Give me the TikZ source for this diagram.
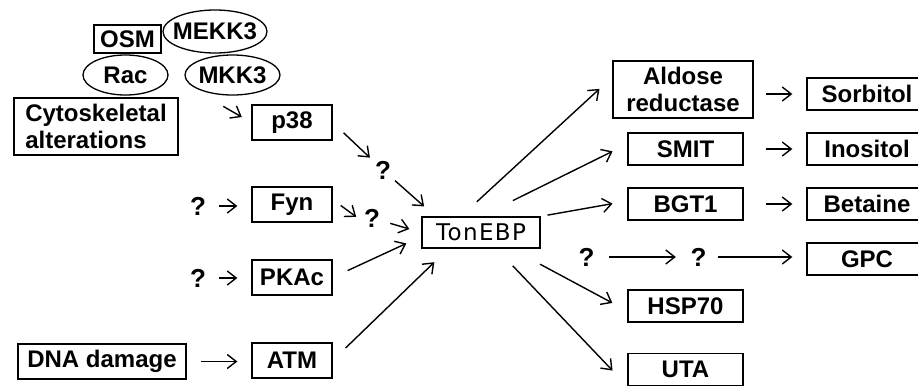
\documentclass[tikz,border=0pt]{standalone}
\usepackage{fontspec}
\setmainfont{Liberation Sans}
\newfontfamily\tonfont[LetterSpace=6]{DejaVu Sans}
\usetikzlibrary{arrows.meta,shapes.geometric}
\tikzset{
  lab/.style={font=\fontsize{24}{27}\selectfont\bfseries},
  box/.style={lab, draw, line width=1.3pt, inner sep=0pt, align=center},
  oval/.style={lab, draw, ellipse, line width=1.3pt, inner ysep=0pt, inner xsep=-6pt},
  qm/.style={font=\fontsize{26}{28}\selectfont\bfseries, inner sep=2pt},
  arr/.style={-{Straight Barb[length=9pt,width=14pt]}, line width=1.4pt}
}
\begin{document}
\begin{tikzpicture}[x=1pt,y=-1pt]
  \useasboundingbox (0,0) rectangle (918,386);
  \node[box, minimum width=67pt, minimum height=28pt] (osm) at (127.5,39) {OSM};
  \node[oval, minimum width=104pt, minimum height=43pt] (mekk) at (215,31.5) {MEKK3};
  \node[oval, minimum width=85pt, minimum height=40pt] (rac) at (125.5,75) {Rac};
  \node[oval, minimum width=95pt, minimum height=40pt] (mkk) at (232.5,75) {MKK3};
  \node[box, align=left, minimum width=164pt, minimum height=57pt] (cyto) at (96,126.5) {Cytoskeletal\\alterations};
  \node[box, minimum width=80pt, minimum height=35pt] (p38) at (292,122.5) {p38};
  \node[box, minimum width=80pt, minimum height=35pt] (fyn) at (292,204.5) {Fyn};
  \node[box, minimum width=80pt, minimum height=35pt] (pka) at (292,277.5) {PKAc};
  \node[box, minimum width=80pt, minimum height=35pt] (atm) at (292,360.5) {ATM};
  \node[box, minimum width=168pt, minimum height=35pt] (dna) at (102,361.5) {DNA damage};
  \node[box, font=\fontsize{23}{26}\selectfont\tonfont, minimum width=118pt, minimum height=31pt] (ton) at (481,232.5) {TonEBP};
  \node[box, minimum width=140pt, minimum height=57pt] (ald) at (683,89.5) {Aldose\\reductase};
  \node[box, minimum width=115pt, minimum height=32pt] (smit) at (685.5,149) {SMIT};
  \node[box, minimum width=115pt, minimum height=32pt] (bgt) at (685.5,204) {BGT1};
  \node[box, minimum width=115pt, minimum height=32pt] (hsp) at (685.5,306) {HSP70};
  \node[box, minimum width=115pt, minimum height=32pt] (uta) at (685.5,369.5) {UTA};
  \node[box, minimum width=120pt, minimum height=32pt] (sorb) at (867,94) {Sorbitol};
  \node[box, minimum width=120pt, minimum height=32pt] (inos) at (867,149) {Inositol};
  \node[box, minimum width=120pt, minimum height=32pt] (bet) at (867,204) {Betaine};
  \node[box, minimum width=120pt, minimum height=32pt] (gpc) at (867,259) {GPC};
  \node[qm] (q1) at (383,170) {?};
  \node[qm] (q2) at (372,218) {?};
  \node[qm] (q3) at (198,206) {?};
  \node[qm] (q4) at (198,278) {?};
  \node[qm] (q5) at (586.5,257) {?};
  \node[qm] (q6) at (698.5,257) {?};
  \begin{scope}[arr]
    \draw[shorten <=63pt, shorten >=11pt] (rac.east) -- (p38.west);
    \draw[shorten <=15pt, shorten >=18pt] (p38.east) -- (q1.center);
    \draw[shorten <=16pt, shorten >=15pt] (q1.center) -- ([xshift=14pt]ton.north west);
    \draw[shorten <=10pt, shorten >=7pt] ([yshift=5pt]fyn.east) -- ([yshift=-3pt]q2.west);
    \draw[shorten <=19pt, shorten >=12.5pt] (q2.center) -- (ton.west);
    \draw[shorten <=16.5pt, shorten >=16.5pt] (pka.east) -- ([yshift=-4pt]ton.west);
    \draw[shorten <=18pt, shorten >=19.5pt] (atm.east) -- ([xshift=27pt]ton.south west);
    \draw[shorten <=11pt, shorten >=14pt] (q3.east) -- (q3.east -| fyn.west);
    \draw[shorten <=11pt, shorten >=14pt] (q4.east) -- (q4.east -| pka.west);
    \draw[shorten <=14pt, shorten >=14pt] (dna.east) -- (dna.east -| atm.west);
    \draw[shorten <=21.5pt, shorten >=17.5pt] ([xshift=-20pt]ton.north) -- ([yshift=12.5pt]ald.west);
    \draw[shorten <=35.5pt, shorten >=16.5pt] (ton.north) -- ([yshift=5pt]smit.west);
    \draw[shorten <=7pt, shorten >=15pt] (ton.north east) -- ([yshift=3pt]bgt.west);
    \draw[shorten <=67pt, shorten >=17pt] (ton.center) -- ([yshift=-5pt]hsp.west);
    \draw[shorten <=46pt, shorten >=21.5pt] (ton.center) -- (uta.south west);
    \draw[shorten <=12.5pt, shorten >=12.5pt] (q5.east) -- (q6.west);
    \draw[shorten <=9.5pt, shorten >=14pt] (q6.east) -- (q6.east -| gpc.west);
    \draw[shorten <=12pt, shorten >=14pt] (ald.east |- sorb.west) -- (sorb.west);
    \draw[shorten <=22pt, shorten >=14pt] (smit.east) -- (smit.east -| inos.west);
    \draw[shorten <=22pt, shorten >=14pt] (bgt.east) -- (bgt.east -| bet.west);
  \end{scope}
\end{tikzpicture}
\end{document}
